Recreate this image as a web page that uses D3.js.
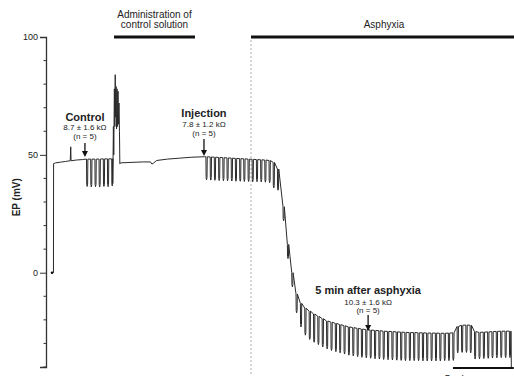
<!DOCTYPE html>
<html>
<head>
<meta charset="utf-8">
<script src="https://cdn.jsdelivr.net/npm/d3@7"></script>
<style>
  body { margin: 0; background: #fff; }
  text { font-family: "Liberation Sans", Arial, sans-serif; fill: #222; }
</style>
</head>
<body>
<svg id="chart" width="514" height="376"></svg>
<script>
// EP trace (time in min, EP in mV) outside the pulse trains
const traceT = [0, 0.12, 0.13, 0.3, 0.7, 1.1, 1.5, 1.54, 1.57, 2.0, 2.5, 2.8,
  5.0, 5.05, 5.08, 5.13, 5.17, 5.2, 5.23, 5.27, 5.31, 5.35, 5.39, 5.43, 5.47, 5.51, 5.55, 5.58, 5.66,
  6.5, 7.5, 8.1, 8.22, 8.35, 8.6, 9.5, 10.5, 11.5, 12.55,
  37.76, 37.78]
const traceEP = [0, 0, 46.3, 46.6, 46.9, 47.2, 47.5, 53.4, 47.5, 47.8, 48.0, 48.2,
  48.4, 62, 50, 78, 62, 84, 66, 79, 61, 78, 62, 77, 63, 72, 60, 46.2, 46.6,
  46.8, 47.0, 47.0, 46.1, 46.5, 47.6, 48.2, 48.6, 49.0, 49.2,
  -24.8, -40]

// resistance test pulses: time, level before the pulse, bottom of the pulse
const controlPulseT = [2.84, 3.18, 3.53, 3.87, 4.22, 4.56, 4.91]
const controlPulseTop = [48.2, 48.2, 48.2, 48.2, 48.3, 48.3, 48.3]
const controlPulseBottom = [36.6, 36.4, 36.5, 36.4, 36.6, 36.5, 36.8]

const injectionPulseT = [12.66, 13.01, 13.35, 13.70, 14.05, 14.39, 14.74, 15.08, 15.43,
  15.77, 16.12, 16.46, 16.81, 17.16, 17.50, 17.85, 18.19, 18.54]
const injectionPulseTop = [49.2, 49.1, 49.0, 48.9, 48.8, 48.7, 48.6, 48.5, 48.4,
  48.3, 48.2, 48.1, 48.0, 47.9, 47.8, 47.6, 46.8, 44.0]
const injectionPulseBottom = [39.4, 39.3, 39.2, 39.1, 39.0, 39.0, 38.9, 38.8, 38.8,
  38.7, 38.7, 38.6, 38.6, 38.5, 38.4, 38.2, 36.0, 35.0]

const asphyxiaPulseT = [19.00, 19.36, 19.72, 20.07, 20.43, 20.79, 21.15, 21.51, 21.86, 22.22,
  22.58, 22.94, 23.30, 23.65, 24.01, 24.37, 24.73, 25.09, 25.44, 25.80,
  26.16, 26.52, 26.88, 27.23, 27.59, 27.95, 28.31, 28.67, 29.02, 29.38,
  29.74, 30.10, 30.46, 30.81, 31.17, 31.53, 31.89, 32.25, 32.60, 32.96,
  33.32, 33.68, 34.04, 34.39, 34.75, 35.11, 35.47, 35.83, 36.18, 36.54,
  36.90, 37.26, 37.62]
const asphyxiaPulseTop = [28, 12, 0, -9, -13, -15, -16.3, -17.5, -18.5, -19.5,
  -20.5, -21, -21.5, -22, -22.5, -23, -23.3, -23.6, -23.9, -24.1,
  -24.3, -24.5, -24.6, -24.8, -24.9, -25.0, -25.1, -25.2, -25.3, -25.4,
  -25.4, -25.5, -25.5, -25.6, -25.6, -25.6, -25.7, -25.7, -25.6, -25.5,
  -22.8, -22.3, -22.2, -22.3, -25.0, -25.3, -25.2, -25.1, -25.0, -24.9,
  -24.8, -24.8, -24.8]
const asphyxiaPulseBottom = [22, 6, -6, -17, -23, -26.5, -28.3, -29.5, -30.5, -31.5,
  -32.3, -33, -33.5, -34, -34.5, -35, -35.3, -35.6, -35.9, -36.1,
  -36.3, -36.5, -36.6, -36.8, -36.9, -37.0, -37.1, -37.2, -37.3, -37.3,
  -37.3, -37.3, -37.4, -37.4, -37.4, -37.4, -37.4, -37.3, -37.3, -37.2,
  -34.0, -33.8, -33.8, -34.0, -36.6, -36.5, -36.4, -36.3, -36.2, -36.1,
  -36.0, -36.0, -36.0]

const epTicks = [0, 50, 100]
const epMinorTicks = [-40, -30, -20, -10, 10, 20, 30, 40, 60, 70, 80, 90]

// periods shown by bars above the trace
const periodLabels = [["Administration of", "control solution"], ["Asphyxia"]]
const periodStart = [5.1, 16.37]
const periodEnd = [11.76, 39]

// arrows with resistance values
const markLabels = ["Control", "Injection", "5 min after asphyxia"]
const markResist = ["8.7 \u00b1 1.6 k\u03a9", "7.8 \u00b1 1.2 k\u03a9", "10.3 \u00b1 1.6 k\u03a9"]
const markN = ["(n = 5)", "(n = 5)", "(n = 5)"]
const markT = [2.71, 12.5, 26.0]

const scaleBarMin = [32.98, 37.98]
const scaleBarLabel = "5 min"

const svg = d3.select("#chart")

const x = d3.scaleLinear().domain([0, 38]).range([52, 514])
const y = d3.scaleLinear().domain([-40, 100]).range([367, 37])

// y axis
const axis = svg.append("g").attr("transform", "translate(46,0)")
axis.call(d3.axisLeft(y).tickValues(epTicks).tickSize(6).tickPadding(2))
axis.select(".domain").attr("stroke", "#333").attr("stroke-width", 1.3)
axis.selectAll(".tick line").attr("stroke", "#333")
axis.selectAll(".tick text").style("font-size", "9px").attr("fill", "#333")
axis.selectAll(".minor").data(epMinorTicks).enter().append("line")
  .attr("class", "minor")
  .attr("x1", -2.5).attr("x2", 0)
  .attr("y1", d => y(d)).attr("y2", d => y(d))
  .attr("stroke", "#333")

svg.append("text")
  .attr("transform", "translate(20," + y(32) + ") rotate(-90)")
  .attr("text-anchor", "middle")
  .style("font-size", "10px").style("font-weight", "bold")
  .text("EP (mV)")

// asphyxia onset line
svg.append("line")
  .attr("x1", x(periodStart[1])).attr("x2", x(periodStart[1]))
  .attr("y1", 40).attr("y2", 376)
  .attr("stroke", "#999").attr("stroke-width", 0.8).attr("stroke-dasharray", "2,2")

// period bars
periodLabels.forEach((lines, i) => {
  svg.append("line")
    .attr("x1", x(periodStart[i])).attr("x2", x(periodEnd[i]))
    .attr("y1", 37).attr("y2", 37)
    .attr("stroke", "#111").attr("stroke-width", 3)
  const cx = i === 0 ? (x(periodStart[i]) + x(periodEnd[i])) / 2 : 384
  const t = svg.append("text").attr("text-anchor", "middle").style("font-size", "10px")
  lines.forEach((s, j) => {
    t.append("tspan").attr("x", cx).attr("y", 28 - (lines.length - 1 - j) * 10.5).text(s)
  })
})

// build the trace: baseline points plus the pulse dips
const points = traceT.map((t, i) => [t, traceEP[i]])
const addPulses = (ts, tops, bottoms) => {
  ts.forEach((t, i) => {
    points.push([t, tops[i]])
    points.push([t + 0.015, bottoms[i] + 1])
    points.push([t + 0.05, bottoms[i]])
    points.push([t + 0.09, bottoms[i] + 1])
    points.push([t + 0.11, tops[i]])
  })
}
addPulses(controlPulseT, controlPulseTop, controlPulseBottom)
addPulses(injectionPulseT, injectionPulseTop, injectionPulseBottom)
addPulses(asphyxiaPulseT, asphyxiaPulseTop, asphyxiaPulseBottom)
points.sort((a, b) => a[0] - b[0])

const line = d3.line().x(d => x(d[0])).y(d => y(d[1]))
svg.append("path")
  .attr("d", line(points))
  .attr("fill", "none")
  .attr("stroke", "#2a2a2a")
  .attr("stroke-width", 1)
  .attr("stroke-linejoin", "round")

svg.append("circle").attr("cx", x(traceT[0])).attr("cy", y(traceEP[0])).attr("r", 1.3).attr("fill", "#111")

// annotations
const markLayout = [
  { title: 121, res: 130, n: 139, a0: 143, a1: 157 },
  { title: 117, res: 127, n: 135.5, a0: 139, a1: 156 },
  { title: 294, res: 304.5, n: 313, a0: 315, a1: 331 }
]
markLabels.forEach((lab, i) => {
  const cx = x(markT[i])
  const L = markLayout[i]
  svg.append("text").attr("x", cx).attr("y", L.title).attr("text-anchor", "middle")
    .style("font-size", "11px").style("font-weight", "bold").attr("fill", "#111").text(lab)
  svg.append("text").attr("x", cx).attr("y", L.res).attr("text-anchor", "middle")
    .style("font-size", "8px").attr("fill", "#444").text(markResist[i])
  svg.append("text").attr("x", cx).attr("y", L.n).attr("text-anchor", "middle")
    .style("font-size", "8px").attr("fill", "#444").text(markN[i])
  svg.append("line").attr("x1", cx).attr("x2", cx).attr("y1", L.a0).attr("y2", L.a1 - 4)
    .attr("stroke", "#111").attr("stroke-width", 1.3)
  svg.append("path")
    .attr("d", `M${cx - 3},${L.a1 - 6}L${cx + 3},${L.a1 - 6}L${cx},${L.a1}Z`)
    .attr("fill", "#111")
})

// time scale bar (its label sits at the lower edge, as in the original)
svg.append("line")
  .attr("x1", x(scaleBarMin[0])).attr("x2", x(scaleBarMin[1]))
  .attr("y1", 368).attr("y2", 368)
  .attr("stroke", "#111").attr("stroke-width", 2)
svg.append("text").attr("x", 457).attr("y", 383).attr("text-anchor", "middle")
  .style("font-size", "10px").text(scaleBarLabel)
</script>
</body>
</html>
